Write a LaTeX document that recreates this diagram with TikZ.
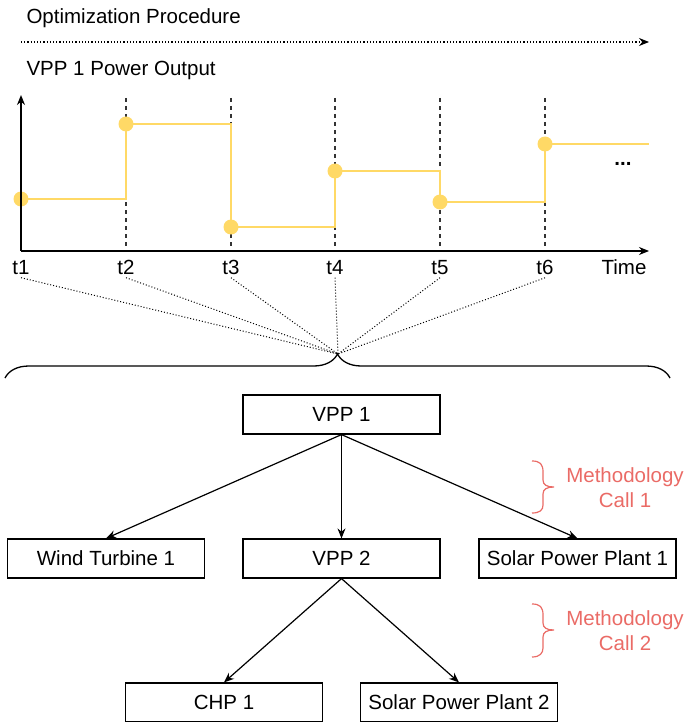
\documentclass[tikz,border=0pt]{standalone}
\usepackage{fontspec}
\setmainfont{Liberation Sans}
\usetikzlibrary{arrows.meta,decorations.pathreplacing}
\definecolor{dotyellow}{HTML}{FFD966}
\definecolor{callred}{HTML}{EA6B66}
\definecolor{gridgray}{HTML}{333333}

\begin{document}
\begin{tikzpicture}[x=1pt, y=-1pt, >={Stealth[length=10pt,width=8pt]},
		every node/.style = {font=\fontsize{20.5}{25}\selectfont},
		unit/.style = {draw, line width=1.2pt, fill=white, minimum width=197pt, minimum height=39pt, inner sep=0pt},
		level/.style = {dotyellow, line width=1.6pt},
		sample/.style = {circle, fill=dotyellow, minimum size=15pt, inner sep=0pt},
		tick/.style = {anchor=base},
		callbrace/.style = {callred, line width=1.2pt}]
	
	\useasboundingbox (0,0) rectangle (686,722);
	
	% optimization procedure
	\node[anchor=base west] (opt) at (23,24) {Optimization Procedure};
	\draw[->, dotted, line width=1.2pt] (21,42) -- (649,42);
	\node[anchor=base west] (out) at (23,76) {VPP 1 Power Output};
	
	% time steps
	\foreach \x [count=\i] in {21,126,231,335,440,545} {
		\node[tick] (t\i) at (\x,274) {t\i};
	}
	\foreach \i in {2,...,6} {
		\draw[gridgray, dashed, line width=1.1pt, dash pattern=on 4pt off 4pt] (t\i.north |- 0,98) -- (t\i.north |- 0,251);
	}
	
	% power output
	\coordinate (p1) at (21,199);
	\coordinate (p2) at (126,124);
	\coordinate (p3) at (231,227);
	\coordinate (p4) at (335,171);
	\coordinate (p5) at (440,202);
	\coordinate (p6) at (545,144);
	\coordinate (end) at (649,144);
	
	\draw[level] (p1) -| (p2) -| (p3) -| (p4) -| (p5) -| (p6) -- (end);
	\foreach \i in {1,...,6} {
		\node[sample] at (p\i) {};
	}
	
	% axes
	\draw[->, line width=1.5pt] (21,251) -- (21,95);
	\draw[->, line width=1.5pt] (21,251) -- (649,251);
	\node[tick] (time) at (624,274) {Time};
	\node[tick] (more) at (623,166) {\textbf{...}};
	
	% collect all steps
	\coordinate (tip) at (338,354);
	\foreach \i in {1,...,6} {
		\draw[dotted, line width=1pt] (t\i.south) -- (tip);
	}
	\draw[line width=1.3pt, decorate, decoration={brace, amplitude=24pt}] (5,378) -- (670,378);
	
	% hierarchy
	\node[unit] (vpp1) at (341.5,414.5) {VPP 1};
	\node[unit] (wind) at (106,558.5) {Wind Turbine 1};
	\node[unit] (vpp2) at (341.5,558.5) {VPP 2};
	\node[unit] (solar1) at (577.5,558.5) {Solar Power Plant 1};
	\node[unit] (chp) at (224,702.5) {CHP 1};
	\node[unit] (solar2) at (459,702.5) {Solar Power Plant 2};
	
	\draw[->, line width=1.2pt] (vpp1.south) -- (wind.north);
	\draw[->, line width=1.2pt] (vpp1.south) -- (vpp2.north);
	\draw[->, line width=1.2pt] (vpp1.south) -- (solar1.north);
	\draw[->, line width=1.2pt] (vpp2.south) -- (chp.north);
	\draw[->, line width=1.2pt] (vpp2.south) -- (solar2.north);
	
	% methodology calls
	\draw[callbrace] (532,461) .. controls (540,461) and (543,464) .. (543,472) -- (543,480) .. controls (543,485) and (547,487) .. (554,487) .. controls (547,487) and (543,489) .. (543,494) -- (543,505) .. controls (543,510) and (540,513) .. (532,513);
	\node[callred, align=center] (call1) at (625,488) {Methodology\\Call 1};
	
	\draw[callbrace] (532,604) .. controls (540,604) and (543,607) .. (543,615) -- (543,623) .. controls (543,628) and (547,630) .. (554,630) .. controls (547,630) and (543,632) .. (543,637) -- (543,648) .. controls (543,653) and (540,657) .. (532,657);
	\node[callred, align=center] (call2) at (625,631) {Methodology\\Call 2};
	
\end{tikzpicture}
\end{document}
